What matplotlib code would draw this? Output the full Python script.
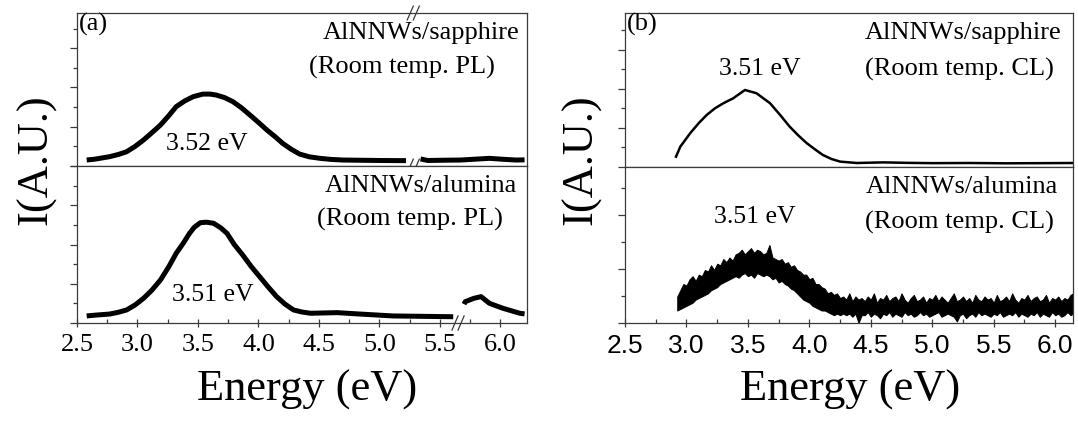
import matplotlib
matplotlib.use('Agg')
import matplotlib.pyplot as plt
from matplotlib.ticker import MultipleLocator, NullFormatter
import numpy as np

W, H = 1078, 421

# (a) PL, AlNNWs/sapphire  (nan = axis break)
pl_sap_x = [2.58, 2.65, 2.77, 2.84, 2.91, 2.98, 3.05, 3.12, 3.19, 3.26, 3.32, 3.39, 3.46, 3.54,
            3.60, 3.65, 3.72, 3.79, 3.86, 3.93, 4.00, 4.07, 4.14, 4.20, 4.27, 4.34, 4.42,
            4.51, 4.60, 4.70, 5.00, 5.22, np.nan, 5.34, 5.40, 5.55, 5.67, 5.80, 5.91, 6.02, 6.13, 6.20]
pl_sap_y = [0.039, 0.045, 0.061, 0.075, 0.093, 0.128, 0.170, 0.218, 0.268, 0.330, 0.388, 0.425, 0.453, 0.470,
            0.470, 0.464, 0.447, 0.420, 0.380, 0.333, 0.285, 0.235, 0.190, 0.148, 0.110, 0.078, 0.060,
            0.050, 0.043, 0.039, 0.036, 0.035, np.nan, 0.046, 0.036, 0.038, 0.039, 0.045, 0.050, 0.044, 0.039, 0.040]

# (a) PL, AlNNWs/alumina
pl_alu_x = [2.58, 2.65, 2.77, 2.84, 2.91, 2.98, 3.05, 3.12, 3.19, 3.26, 3.32, 3.38, 3.43, 3.47, 3.52,
            3.57, 3.63, 3.69, 3.74, 3.80, 3.87, 3.94, 4.01, 4.08, 4.15, 4.22, 4.29, 4.36,
            4.43, 4.65, 4.84, 5.11, 5.40, 5.61, np.nan, 5.70, 5.71, 5.78, 5.84, 5.91, 6.02, 6.16, 6.20]
pl_alu_y = [0.045, 0.050, 0.057, 0.068, 0.083, 0.115, 0.157, 0.210, 0.274, 0.360, 0.444, 0.510, 0.571, 0.610, 0.639,
            0.642, 0.635, 0.605, 0.571, 0.500, 0.433, 0.360, 0.295, 0.230, 0.168, 0.120, 0.083, 0.070,
            0.062, 0.066, 0.057, 0.045, 0.042, 0.040, np.nan, 0.120, 0.136, 0.157, 0.168, 0.125, 0.094, 0.062, 0.058]

# (b) CL, AlNNWs/sapphire
cl_sap_x = [2.915, 2.95, 3.03, 3.10, 3.165, 3.23, 3.30, 3.38, 3.476, 3.57, 3.68, 3.76, 3.84, 3.91,
            3.98, 4.05, 4.11, 4.18, 4.25, 4.385, 4.6, 4.8, 5.0, 5.3, 5.6, 5.9, 6.15]
cl_sap_y = [0.067, 0.132, 0.219, 0.285, 0.338, 0.380, 0.414, 0.446, 0.500, 0.479, 0.414, 0.340, 0.262, 0.205,
            0.154, 0.112, 0.078, 0.052, 0.035, 0.026, 0.030, 0.027, 0.025, 0.026, 0.024, 0.025, 0.026]

# (b) CL, AlNNWs/alumina: noisy band, upper / lower envelope
cl_alu_x = [2.925, 2.95, 2.975, 3.00, 3.025, 3.05, 3.075, 3.10, 3.125, 3.15,
            3.175, 3.20, 3.225, 3.25, 3.275, 3.30, 3.325, 3.35, 3.375, 3.40,
            3.425, 3.45, 3.475, 3.50, 3.525, 3.55, 3.575, 3.60, 3.625, 3.65,
            3.675, 3.70, 3.725, 3.75, 3.775, 3.80, 3.825, 3.85, 3.875, 3.90,
            3.925, 3.95, 3.975, 4.00, 4.025, 4.05, 4.075, 4.10, 4.125, 4.15,
            4.175, 4.20, 4.225, 4.25, 4.275, 4.30, 4.325, 4.35, 4.375, 4.40,
            4.425,
            4.45, 4.475, 4.50, 4.525, 4.55, 4.575, 4.60, 4.625, 4.65, 4.675,
            4.70, 4.725, 4.75, 4.775, 4.80, 4.825, 4.85, 4.875, 4.90, 4.925,
            4.95, 4.975, 5.00, 5.025, 5.05, 5.075, 5.10, 5.125, 5.15, 5.175,
            5.20, 5.225, 5.25, 5.275, 5.30, 5.325, 5.35, 5.375, 5.40, 5.425,
            5.45, 5.475, 5.50, 5.525, 5.55, 5.575, 5.60, 5.625, 5.65, 5.675,
            5.70, 5.725, 5.75, 5.775, 5.80, 5.825, 5.85, 5.875, 5.90, 5.925,
            5.95, 5.975, 6.00, 6.025, 6.05, 6.075, 6.10, 6.125, 6.145]
cl_alu_hi = [.17, .21, .25, .24, .28, .30, .27, .31, .30, .34,
             .33, .37, .34, .38, .37, .41, .39, .42, .40, .44,
             .45, .47, .44, .46, .48, .45, .47, .46, .44, .45,
             .50, .42, .41, .40, .41, .38, .39, .36, .37, .34,
             .33, .31, .31, .28, .29, .25, .25, .23, .22, .19,
             .20, .18, .19, .16, .17, .15, .19, .14, .17, .15,
             .16,
             .14, .17, .15, .19, .13, .16, .15, .18, .14, .16,
             .17, .14, .19, .15, .13, .16, .18, .14, .15, .17,
             .13, .16, .15, .18, .14, .17, .15, .13, .16, .19,
             .14, .15, .17, .14, .16, .13, .18, .15, .14, .17,
             .15, .16, .13, .18, .14, .15, .17, .14, .19, .15,
             .13, .16, .15, .18, .14, .16, .17, .14, .15, .18,
             .13, .16, .15, .17, .14, .16, .15, .18, .19]
cl_alu_lo = [.08, .09, .10, .11, .12, .13, .15, .16, .17, .18,
             .19, .21, .22, .23, .25, .26, .27, .28, .29, .30,
             .29, .31, .32, .30, .31, .29, .32, .31, .30, .31,
             .30, .28, .29, .26, .27, .25, .24, .22, .21, .19,
             .17, .15, .14, .13, .11, .10, .09, .08, .08, .07,
             .06, .05, .06, .05, .06, .05, .06, .04, .06, .00,
             .05,
             .05, .07, .04, .06, .05, .03, .06, .05, .07, .04,
             .06, .05, .04, .07, .05, .06, .04, .05, .07, .05,
             .06, .04, .05, .06, .07, .04, .05, .06, .05, .04,
             .01, .05, .06, .03, .05, .06, .04, .07, .05, .06,
             .05, .04, .06, .05, .07, .04, .05, .06, .05, .07,
             .04, .06, .05, .04, .06, .05, .07, .04, .06, .05,
             .04, .07, .05, .06, .04, .05, .07, .05, .06]

xticks = [2.5, 3.0, 3.5, 4.0, 4.5, 5.0, 5.5, 6.0]

SERIF = 'Liberation Serif'
SANS = 'Liberation Sans'
FRAME = '#3a3a3a'

fig = plt.figure(figsize=(W / 100, H / 100), dpi=100)


def add_ax(left, right, top, bottom):
    return fig.add_axes([left / W, 1 - bottom / H, (right - left) / W, (bottom - top) / H])


def style(ax, ymaj, ymin, xlim, show_x, tickfont):
    ax.set_xlim(*xlim)
    ax.set_ylim(0, 1)
    for s in ax.spines.values():
        s.set_color(FRAME)
        s.set_linewidth(0.9)
    ax.yaxis.set_major_locator(MultipleLocator(ymaj))
    ax.yaxis.set_minor_locator(MultipleLocator(ymin))
    ax.yaxis.set_major_formatter(NullFormatter())
    ax.tick_params(axis='y', which='major', direction='out', length=5, width=0.9, color=FRAME)
    ax.tick_params(axis='y', which='minor', direction='out', length=3, width=0.9, color=FRAME)
    if show_x:
        ax.set_xticks(xticks)
        ax.set_xticklabels([f'{t:.1f}' for t in xticks], fontfamily=tickfont, fontsize=19)
        ax.xaxis.set_minor_locator(MultipleLocator(0.25))
        ax.tick_params(axis='x', which='major', direction='inout', length=6, width=0.9,
                       color=FRAME, pad=5)
        ax.tick_params(axis='x', which='minor', direction='in', length=3, width=0.9, color=FRAME)
    else:
        ax.set_xticks([])


def brk(ax, x, yax):
    # "//" axis-break mark, x in data, y in axes fraction
    for dx in (-0.025, 0.025):
        ax.plot([x + dx - 0.025, x + dx + 0.025], [yax - 0.045, yax + 0.045],
                transform=ax.get_xaxis_transform(), color=FRAME, lw=0.9, clip_on=False)


# panel (a)
a_top = add_ax(77, 527, 13, 166)
a_bot = add_ax(77, 527, 166, 323)
style(a_top, 0.2567, 0.12835, (2.5, 6.22), False, SERIF)
style(a_bot, 0.25, 0.125, (2.5, 6.22), True, SERIF)
a_top.plot(pl_sap_x, pl_sap_y, color='black', lw=3.6, solid_capstyle='butt', solid_joinstyle='round')
a_bot.plot(pl_alu_x, pl_alu_y, color='black', lw=3.6, solid_capstyle='butt', solid_joinstyle='round')
brk(a_top, 5.28, 1.0)
brk(a_top, 5.28, 0.0)
brk(a_bot, 5.65, 0.0)

# panel (b)
b_top = add_ax(625, 1073, 13, 167)
b_bot = add_ax(625, 1073, 167, 323)
style(b_top, 0.254, 0.127, (2.5, 6.145), False, SANS)
style(b_bot, 0.3462, 0.1731, (2.5, 6.145), True, SANS)
b_top.plot(cl_sap_x, cl_sap_y, color='black', lw=1.8)
b_bot.fill_between(cl_alu_x, cl_alu_lo, cl_alu_hi, color='black', lw=0.7, edgecolor='black')


def txt(x, y, s, size=19, ha='left', family=SERIF):
    fig.text(x / W, 1 - y / H, s, fontsize=size, ha=ha, va='center', fontfamily=family)


txt(79, 24, '(a)')
txt(519, 33, 'AlNNWs/sapphire', ha='right')
txt(495, 67, '(Room temp. PL)', ha='right')
txt(207, 144, '3.52 eV', size=18.5, ha='center')
txt(517, 186, 'AlNNWs/alumina', ha='right')
txt(503, 219, '(Room temp. PL)', ha='right')
txt(213, 295, '3.51 eV', size=18.5, ha='center')

txt(627, 24, '(b)')
txt(865, 33, 'AlNNWs/sapphire')
txt(865, 69, '(Room temp. CL)')
txt(760, 69, '3.51 eV', size=18.5, ha='center')
txt(866, 187, 'AlNNWs/alumina')
txt(865, 222, '(Room temp. CL)')
txt(755, 217, '3.51 eV', size=18.5, ha='center')

for cx in (307, 850):
    fig.text(cx / W, 1 - 390 / H, 'Energy (eV)', fontsize=32, ha='center', va='center',
             fontfamily=SERIF)
for cx in (36, 581):
    fig.text(cx / W, 1 - 160 / H, 'I(A.U.)', fontsize=32, ha='center', va='center',
             rotation=90, fontfamily=SERIF)

fig.savefig('out.png', dpi=100, facecolor='white')
